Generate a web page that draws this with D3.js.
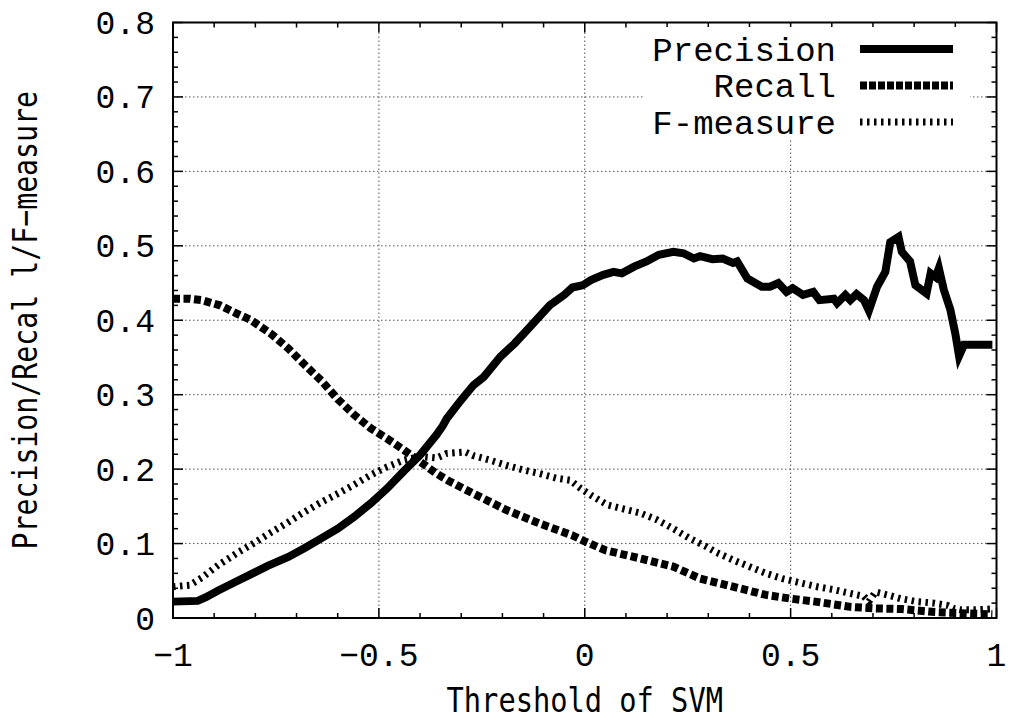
<!DOCTYPE html>
<html>
<head>
<meta charset="utf-8">
<script src="https://cdn.jsdelivr.net/npm/d3@7"></script>
<style>
  body { margin: 0; background: #fff; }
  svg { display: block; }
</style>
</head>
<body>
<div id="chart"></div>
<script>
// values
const precision = [[-1.00,0.022],[-0.94,0.023],[-0.92,0.028],[-0.89,0.037],[-0.85,0.048],[-0.81,0.059],[-0.77,0.070],[-0.72,0.082],[-0.68,0.094],[-0.64,0.107],[-0.60,0.120],[-0.56,0.136],[-0.52,0.154],[-0.48,0.174],[-0.44,0.197],[-0.40,0.219],[-0.36,0.246],[-0.345,0.258],[-0.335,0.268],[-0.30,0.293],[-0.27,0.313],[-0.245,0.324],[-0.205,0.351],[-0.17,0.369],[-0.14,0.387],[-0.11,0.405],[-0.085,0.420],[-0.05,0.434],[-0.03,0.444],[-0.005,0.447],[0.015,0.454],[0.045,0.461],[0.07,0.465],[0.09,0.463],[0.12,0.472],[0.15,0.479],[0.18,0.488],[0.215,0.492],[0.24,0.490],[0.265,0.483],[0.28,0.486],[0.31,0.482],[0.335,0.483],[0.36,0.477],[0.37,0.479],[0.395,0.456],[0.43,0.445],[0.45,0.445],[0.47,0.450],[0.49,0.438],[0.505,0.443],[0.53,0.434],[0.555,0.438],[0.57,0.427],[0.605,0.429],[0.613,0.423],[0.633,0.434],[0.645,0.427],[0.66,0.435],[0.678,0.427],[0.69,0.413],[0.71,0.445],[0.73,0.465],[0.742,0.505],[0.762,0.512],[0.77,0.492],[0.79,0.479],[0.803,0.447],[0.83,0.436],[0.84,0.463],[0.852,0.458],[0.86,0.470],[0.872,0.441],[0.888,0.414],[0.90,0.382],[0.909,0.352],[0.921,0.367],[0.99,0.367]];

const recall = [[-1.00,0.429],[-0.96,0.429],[-0.93,0.427],[-0.886,0.420],[-0.845,0.409],[-0.81,0.400],[-0.76,0.381],[-0.72,0.362],[-0.68,0.340],[-0.64,0.319],[-0.60,0.294],[-0.56,0.273],[-0.52,0.255],[-0.48,0.241],[-0.44,0.226],[-0.40,0.210],[-0.36,0.194],[-0.33,0.184],[-0.27,0.167],[-0.19,0.145],[-0.11,0.127],[-0.03,0.111],[0.0,0.103],[0.05,0.091],[0.135,0.080],[0.215,0.069],[0.28,0.053],[0.36,0.042],[0.44,0.031],[0.50,0.026],[0.56,0.022],[0.645,0.015],[0.70,0.013],[0.77,0.012],[0.85,0.008],[0.93,0.006],[0.99,0.005]];

const fmeasure = [[-1.00,0.042],[-0.96,0.044],[-0.93,0.054],[-0.89,0.071],[-0.845,0.087],[-0.805,0.100],[-0.765,0.114],[-0.725,0.127],[-0.685,0.141],[-0.645,0.154],[-0.60,0.167],[-0.56,0.179],[-0.52,0.192],[-0.48,0.203],[-0.44,0.212],[-0.40,0.217],[-0.36,0.215],[-0.335,0.221],[-0.29,0.223],[-0.27,0.218],[-0.23,0.212],[-0.19,0.205],[-0.15,0.199],[-0.11,0.194],[-0.07,0.188],[-0.035,0.185],[-0.01,0.174],[0.015,0.165],[0.055,0.152],[0.09,0.147],[0.135,0.141],[0.175,0.132],[0.215,0.120],[0.255,0.107],[0.295,0.096],[0.32,0.088],[0.36,0.078],[0.40,0.069],[0.44,0.060],[0.48,0.053],[0.525,0.047],[0.565,0.042],[0.605,0.038],[0.645,0.033],[0.678,0.029],[0.69,0.022],[0.706,0.035],[0.735,0.031],[0.767,0.026],[0.807,0.022],[0.848,0.020],[0.88,0.017],[0.896,0.013],[0.913,0.011],[0.945,0.011],[0.985,0.012]];

const seriesNames = ["Precision", "Recall", "F-measure"];
const xTicks = [-1, -0.5, 0, 0.5, 1];
const yTicks = [0, 0.1, 0.2, 0.3, 0.4, 0.5, 0.6, 0.7, 0.8];
const xTitle = "Threshold of SVM";
const yTitle = "Precision/Recal l/F\u2212measure";

const width = 1015, height = 720;
const margin = { top: 22.5, right: 18.5, bottom: 102, left: 173 };

const svg = d3.select("#chart").append("svg")
  .attr("width", width).attr("height", height)
  .attr("viewBox", [0, 0, width, height]);

const x = d3.scaleLinear().domain([-1, 1]).range([margin.left, width - margin.right]);
const y = d3.scaleLinear().domain([0, 0.8]).range([height - margin.bottom, margin.top]);

const monoFont = "'Liberation Mono', 'Courier New', monospace";
const sansMono = "'DejaVu Sans Mono', monospace";
const fmt = d => (d < 0 ? "\u2212" : "") + Math.abs(d);

// grid
svg.append("g").selectAll("line").data(xTicks.slice(1, -1)).join("line")
  .attr("x1", d => x(d)).attr("x2", d => x(d))
  .attr("y1", y(0)).attr("y2", y(0.8))
  .attr("stroke", "#555").attr("stroke-width", 1).attr("stroke-dasharray", "1.5,2.5");
svg.append("g").selectAll("line").data(yTicks.slice(1, -1)).join("line")
  .attr("y1", d => y(d)).attr("y2", d => y(d))
  .attr("x1", x(-1)).attr("x2", x(1))
  .attr("stroke", "#555").attr("stroke-width", 1).attr("stroke-dasharray", "1.5,2.5");

// ticks on all four sides
const xMinor = d3.range(-10, 11).map(i => i / 10);
const yMinor = d3.range(0, 41).map(i => i / 50);
const ticks = svg.append("g").attr("stroke", "#000").attr("stroke-width", 1.5);
xMinor.forEach(v => {
  const len = Math.abs(v * 2 - Math.round(v * 2)) < 1e-6 ? 10 : 5;
  ticks.append("line").attr("x1", x(v)).attr("x2", x(v)).attr("y1", y(0)).attr("y2", y(0) - len);
  ticks.append("line").attr("x1", x(v)).attr("x2", x(v)).attr("y1", y(0.8)).attr("y2", y(0.8) + len);
});
yMinor.forEach(v => {
  const len = Math.abs(v * 10 - Math.round(v * 10)) < 1e-6 ? 10 : 5;
  ticks.append("line").attr("y1", y(v)).attr("y2", y(v)).attr("x1", x(-1)).attr("x2", x(-1) + len);
  ticks.append("line").attr("y1", y(v)).attr("y2", y(v)).attr("x1", x(1)).attr("x2", x(1) - len);
});

// tick labels
svg.append("g").selectAll("text").data(yTicks).join("text")
  .attr("x", x(-1) - 18).attr("y", d => y(d)).attr("dy", "0.35em")
  .attr("text-anchor", "end").attr("font-family", monoFont).attr("font-size", 33)
  .text(d => d === 0 ? "0" : d3.format(".1f")(d));
svg.append("g").selectAll("text").data(xTicks).join("text")
  .attr("x", d => x(d)).attr("y", 666)
  .attr("text-anchor", "middle").attr("font-family", monoFont).attr("font-size", 33)
  .text(fmt);

// axis titles
svg.append("text")
  .attr("transform", `translate(${x(0)},712) scale(0.87,1)`)
  .attr("text-anchor", "middle").attr("font-family", sansMono).attr("font-size", 33)
  .text(xTitle);
svg.append("text")
  .attr("transform", `translate(37,${(y(0) + y(0.8)) / 2}) rotate(-90) scale(0.83,1)`)
  .attr("text-anchor", "middle").attr("font-family", sansMono).attr("font-size", 34)
  .text(yTitle);

// curves
const line = d3.line().x(d => x(d[0])).y(d => y(d[1]));
const styles = [
  { data: precision, width: 8, dash: null },
  { data: recall, width: 8, dash: "7,3.5" },
  { data: fmeasure, width: 7, dash: "2.5,4.5" }
];
styles.forEach(s => {
  svg.append("path").datum(s.data)
    .attr("fill", "none").attr("stroke", "#000")
    .attr("stroke-width", s.width).attr("stroke-linejoin", "miter").attr("stroke-miterlimit", 10)
    .attr("stroke-dasharray", s.dash)
    .attr("d", line);
});

// legend
const legend = svg.append("g");
legend.append("rect").attr("x", 644).attr("y", 27).attr("width", 326).attr("height", 112).attr("fill", "#fff");
seriesNames.forEach((name, i) => {
  const ly = 49 + i * 36.5;
  legend.append("text").attr("x", 836).attr("y", ly).attr("dy", "0.35em")
    .attr("text-anchor", "end").attr("font-family", monoFont).attr("font-size", 34)
    .text(name);
  legend.append("line").attr("x1", 860).attr("x2", 953).attr("y1", ly).attr("y2", ly)
    .attr("stroke", "#000").attr("stroke-width", styles[i].width)
    .attr("stroke-dasharray", i === 1 ? "7,2" : styles[i].dash);
});

// border
svg.append("rect")
  .attr("x", x(-1)).attr("y", y(0.8))
  .attr("width", x(1) - x(-1)).attr("height", y(0) - y(0.8))
  .attr("fill", "none").attr("stroke", "#000").attr("stroke-width", 2);
</script>
</body>
</html>
